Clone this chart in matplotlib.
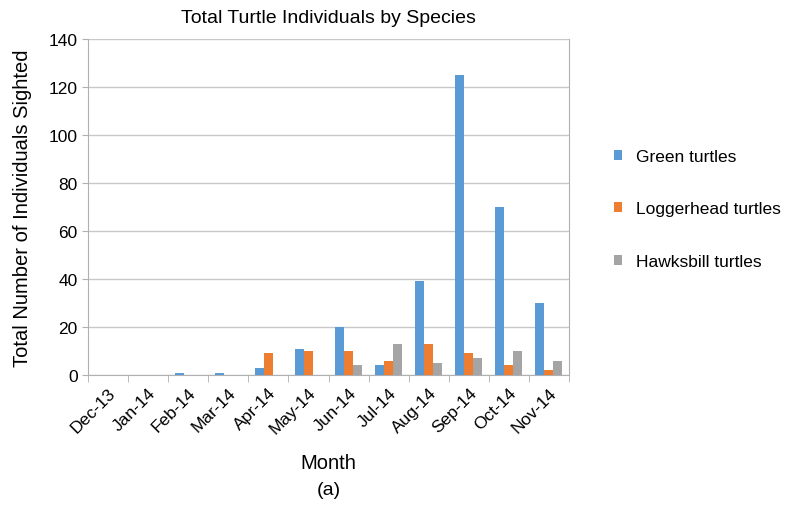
import matplotlib.pyplot as plt
import numpy as np

plt.rcParams['font.family'] = ['Liberation Sans', 'DejaVu Sans']

months = ['Dec-13', 'Jan-14', 'Feb-14', 'Mar-14', 'Apr-14', 'May-14',
          'Jun-14', 'Jul-14', 'Aug-14', 'Sep-14', 'Oct-14', 'Nov-14']
green = [0, 0, 1, 1, 3, 11, 20, 4, 39, 125, 70, 30]
loggerhead = [0, 0, 0, 0, 9, 10, 10, 6, 13, 9, 4, 2]
hawksbill = [0, 0, 0, 0, 0, 0, 4, 13, 5, 7, 10, 6]
series_names = ['Green turtles', 'Loggerhead turtles', 'Hawksbill turtles']
colors = ['#5B9BD5', '#ED7D31', '#A5A5A5']

fig = plt.figure(figsize=(7.9, 5.06), dpi=100)
ax = fig.add_axes([88 / 790, 1 - 376 / 506, (569 - 88) / 790, (376 - 40) / 506])

x = np.arange(len(months))
w = 0.225
for i, (vals, name, c) in enumerate(zip([green, loggerhead, hawksbill], series_names, colors)):
    ax.bar(x + (i - 1) * w, vals, w, color=c, label=name, zorder=3)

ax.set_xlim(-0.5, len(months) - 0.5)
ax.set_ylim(0, 140)
ax.set_yticks(range(0, 141, 20))
ax.grid(axis='y', color='#c8c8c8', linewidth=1, zorder=0)

ax.set_xticks(x)
ax.set_xticklabels(months, rotation=45, ha='right', rotation_mode='anchor', fontsize=12.5)
ax.set_xticks(np.arange(-0.5, len(months), 1), minor=True)
ax.tick_params(axis='x', which='major', length=0, pad=7)
ax.tick_params(axis='x', which='minor', length=5, color='#b0b0b0')
ax.tick_params(axis='y', length=4, color='#b0b0b0', labelsize=12.5)

for s in ['left', 'bottom', 'right']:
    ax.spines[s].set_color('#b0b0b0')
ax.spines['top'].set_visible(False)

ax.set_title('Total Turtle Individuals by Species', fontsize=14, pad=12)
ax.set_xlabel('Month', fontsize=14.5, labelpad=12)
ax.set_ylabel('Total Number of Individuals Sighted', fontsize=14.5, labelpad=12)

fig.legend(loc='center left', bbox_to_anchor=(0.757, 0.585), frameon=False,
           fontsize=12.5, handlelength=0.5, handleheight=0.5, labelspacing=2.15,
           handletextpad=0.8)

fig.text(ax.get_position().x0 + ax.get_position().width / 2, 1 - 491 / 506, '(a)',
         ha='center', va='center', fontsize=14)

fig.savefig('out.png', dpi=100)
